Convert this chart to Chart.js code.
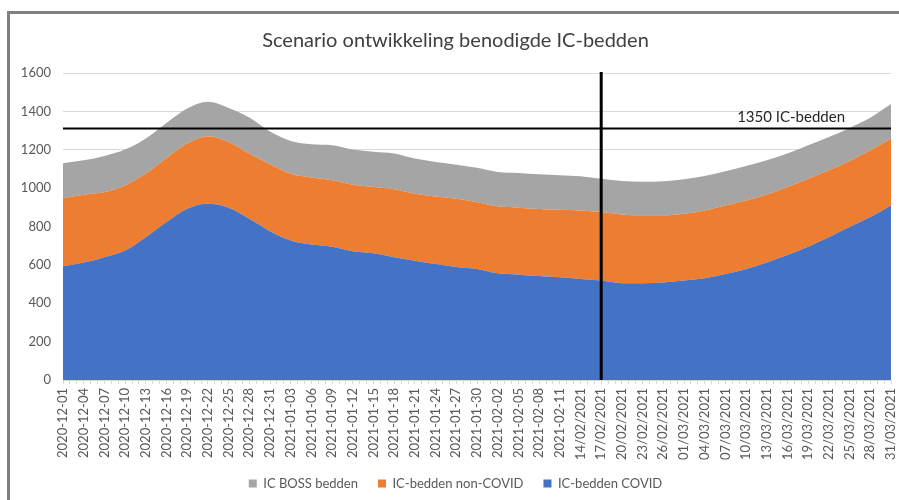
<!DOCTYPE html>
<html>
<head>
<meta charset="utf-8">
<script src="https://cdn.jsdelivr.net/npm/chart.js@4/dist/chart.umd.min.js"></script>
<style>
  html, body { margin: 0; padding: 0; background: #ffffff; }
  #wrap { position: relative; width: 899px; height: 500px; overflow: hidden; }
  #frame { position: absolute; left: 7px; top: 11px; width: 900px; height: 500px;
           border-left: 3px solid #808080; border-top: 3px solid #808080; }
  canvas { position: absolute; left: 0; top: 0; }
</style>
</head>
<body>
<div id="wrap">
  <div id="frame"></div>
  <canvas id="c" width="899" height="500"></canvas>
</div>
<script>
// Day offsets from 2020-12-01 at which values were read
const days = [0,3,6,9,12,15,18,21,24,27,30,33,36,39,42,45,48,51,54,57,60,63,66,69,72,75,78,81,84,87,90,93,96,99,102,105,108,111,114,117,120];

// Tick labels (one every 3 days)
const tickLabels = [
  '2020-12-01','2020-12-04','2020-12-07','2020-12-10','2020-12-13','2020-12-16','2020-12-19','2020-12-22',
  '2020-12-25','2020-12-28','2020-12-31','2021-01-03','2021-01-06','2021-01-09','2021-01-12','2021-01-15',
  '2021-01-18','2021-01-21','2021-01-24','2021-01-27','2021-01-30','2021-02-02','2021-02-05','2021-02-08',
  '2021-02-11','14/02/2021','17/02/2021','20/02/2021','23/02/2021','26/02/2021','01/03/2021','04/03/2021',
  '07/03/2021','10/03/2021','13/03/2021','16/03/2021','19/03/2021','22/03/2021','25/03/2021','28/03/2021','31/03/2021'
];

// Series values (stacked)
const covid = [593,612,640,675,744,823,893,919,898,840,775,727,706,695,671,660,640,622,605,589,579,556,549,542,535,527,518,504,504,508,518,530,553,579,613,651,695,744,797,849,910];
const nonCovid = [355,354,338,339,332,334,339,352,343,340,350,348,349,346,347,346,354,349,352,356,348,349,349,349,352,357,357,359,354,350,348,354,357,357,354,355,354,349,344,348,347];
const boss = [181,179,190,187,183,183,183,179,177,188,170,171,174,183,183,183,186,183,179,177,179,179,181,181,180,178,174,174,175,178,180,179,178,179,178,174,175,174,173,170,181];

const capacityValue = 1311;
const capacityLabel = '1350 IC-bedden';
const markerDay = 78;

const FONT = 'Lato, "Open Sans", sans-serif';

function pts(arr) { return arr.map((v, i) => ({ x: days[i], y: v })); }

const linesPlugin = {
  id: 'refLines',
  afterLayout(chart) {
    // let rotated tick labels extend below the x-axis box without clipping
    const xs = chart.scales.x;
    xs.bottom = xs.top + 100;
  },
  afterDatasetsDraw(chart) {
    const { ctx, chartArea, scales } = chart;
    const yH = scales.y.getPixelForValue(capacityValue);
    const xV = scales.x.getPixelForValue(markerDay);
    ctx.save();
    ctx.strokeStyle = '#000000';
    ctx.lineWidth = 2;
    ctx.beginPath();
    ctx.moveTo(chartArea.left, yH);
    ctx.lineTo(chartArea.right, yH);
    ctx.stroke();
    ctx.lineWidth = 3;
    ctx.beginPath();
    ctx.moveTo(xV, chartArea.top - 1);
    ctx.lineTo(xV, chartArea.bottom);
    ctx.stroke();
    ctx.fillStyle = '#262626';
    ctx.font = '15px ' + FONT;
    ctx.textAlign = 'right';
    ctx.textBaseline = 'middle';
    ctx.fillText(capacityLabel, chartArea.right - 46, yH - 11);
    ctx.restore();
  }
};

new Chart(document.getElementById('c'), {
  type: 'line',
  data: {
    datasets: [
      { label: 'IC-bedden COVID', data: pts(covid), backgroundColor: '#4472C4', borderColor: '#4472C4', fill: 'origin' },
      { label: 'IC-bedden non-COVID', data: pts(nonCovid), backgroundColor: '#ED7D31', borderColor: '#ED7D31', fill: '-1' },
      { label: 'IC BOSS bedden', data: pts(boss), backgroundColor: '#A5A5A5', borderColor: '#A5A5A5', fill: '-1' }
    ]
  },
  options: {
    responsive: false,
    animation: false,
    devicePixelRatio: 1,
    elements: {
      point: { radius: 0, hoverRadius: 0 },
      line: { borderWidth: 0, tension: 0.4, cubicInterpolationMode: 'monotone' }
    },
    layout: { padding: { left: 20, right: 8, top: 0, bottom: 0 } },
    plugins: {
      title: {
        display: true,
        text: 'Scenario ontwikkeling benodigde IC-bedden',
        color: '#404040',
        font: { family: FONT, size: 20, weight: 'normal' },
        padding: { top: 29, bottom: 20 }
      },
      legend: {
        position: 'bottom',
        reverse: true,
        labels: {
          boxWidth: 8, boxHeight: 8, padding: 20,
          color: '#595959',
          font: { family: FONT, size: 13 }
        }
      },
      tooltip: { enabled: false }
    },
    scales: {
      x: {
        type: 'linear',
        min: 0, max: 120,
        afterFit(scale) { scale.height = 77; scale.paddingRight = 0; scale.paddingLeft = 0; },
        border: { display: true, color: '#d9d9d9' },
        grid: { display: true, drawOnChartArea: false, drawTicks: true, tickLength: 4, color: '#d9d9d9' },
        ticks: {
          stepSize: 1,
          maxTicksLimit: 200,
          autoSkip: false,
          minRotation: 90, maxRotation: 90,
          padding: 4,
          color: '#595959',
          font: { family: FONT, size: 13 },
          callback: (v) => (v % 3 === 0 ? tickLabels[v / 3] : '')
        }
      },
      y: {
        stacked: true,
        min: 0, max: 1600,
        afterFit(scale) { scale.width = 43; },
        border: { display: false },
        grid: { color: '#d9d9d9', lineWidth: 1, drawTicks: false },
        ticks: {
          stepSize: 200,
          padding: 12,
          color: '#595959',
          font: { family: FONT, size: 13 },
          callback: (v) => String(v)
        }
      }
    }
  },
  plugins: [linesPlugin]
});
</script>
</body>
</html>
